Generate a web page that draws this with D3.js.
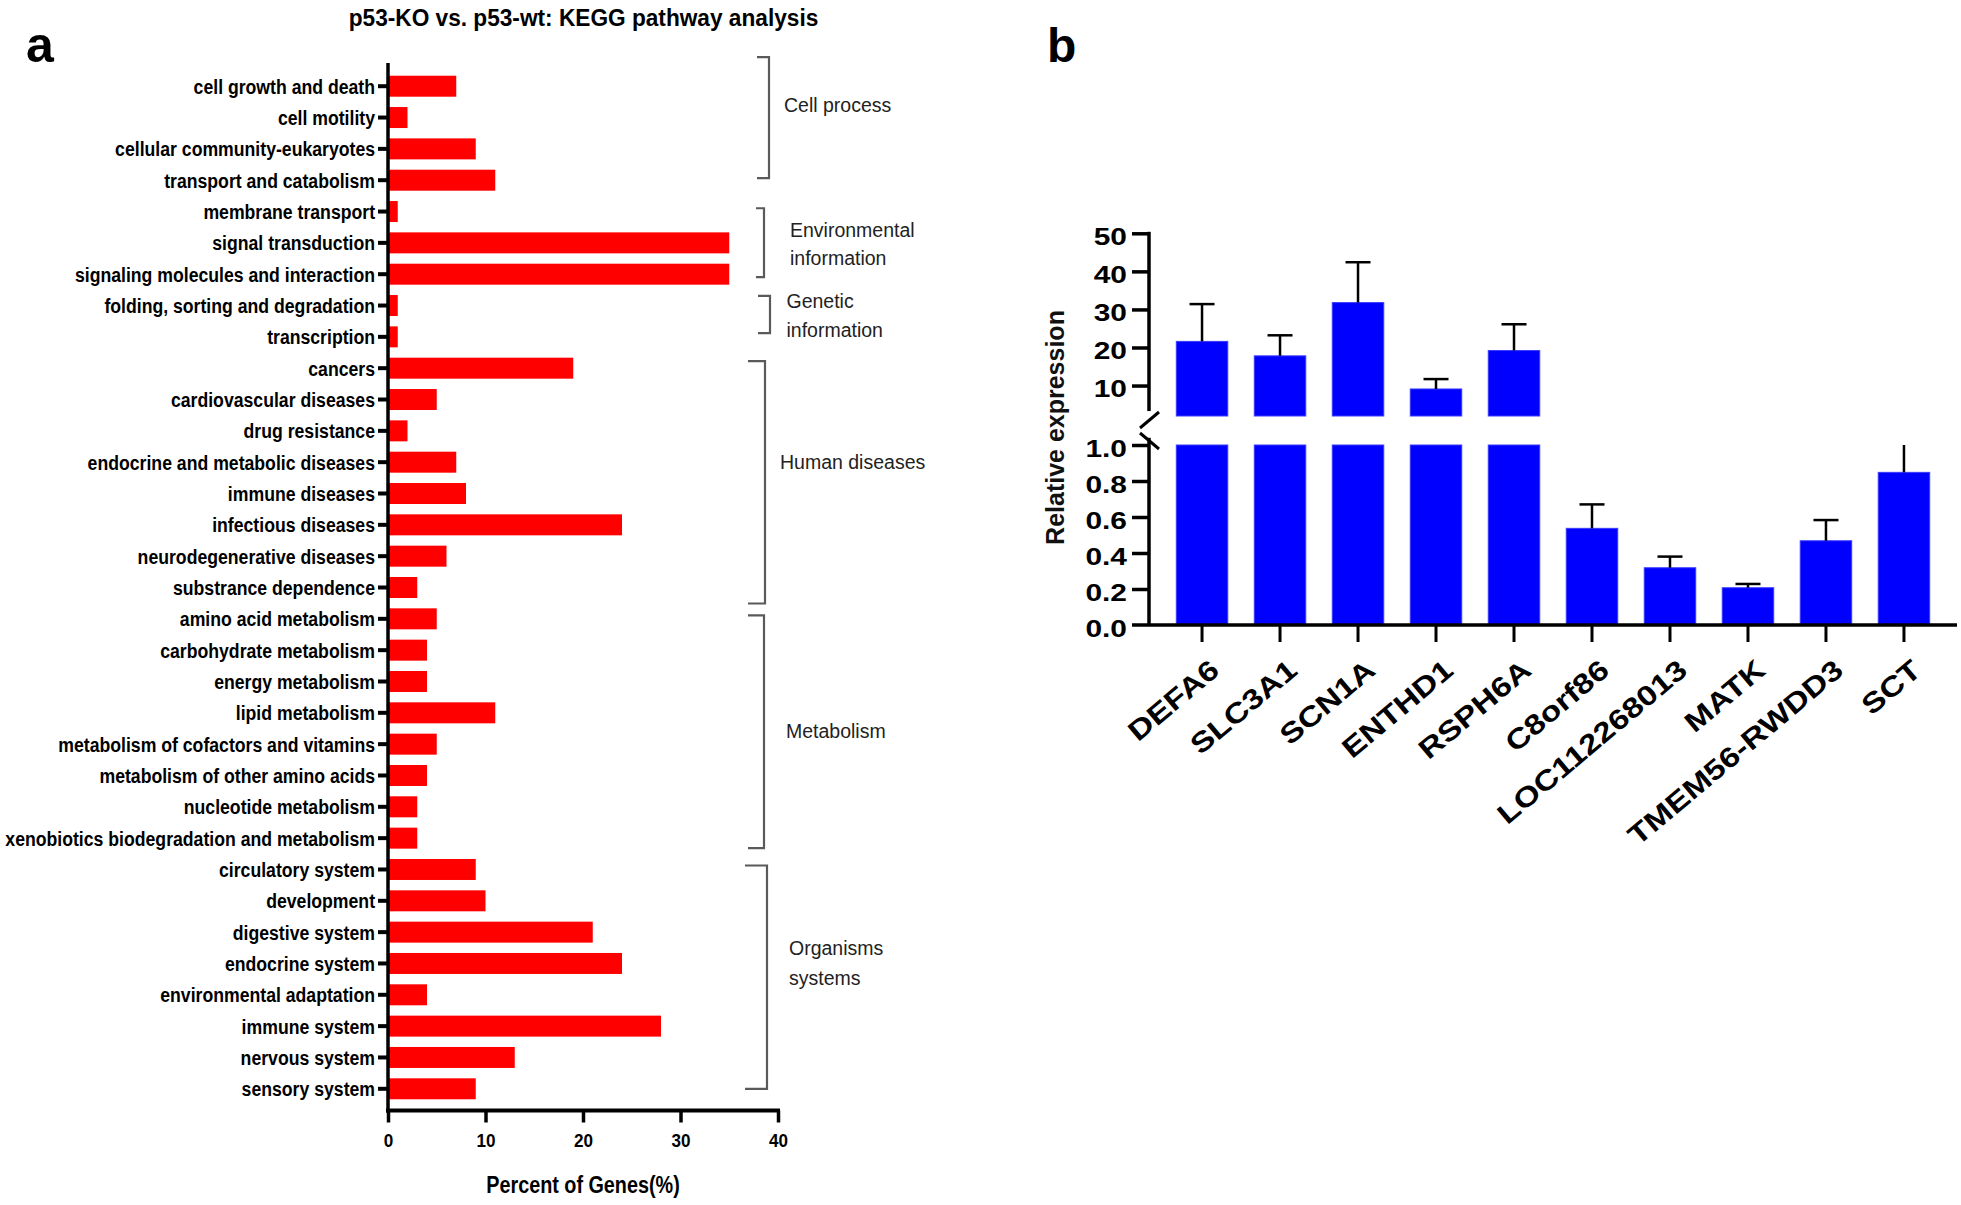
<!DOCTYPE html>
<html>
<head>
<meta charset="utf-8">
<script src="https://cdn.jsdelivr.net/npm/d3@7"></script>
<style>
  html, body { margin: 0; padding: 0; background: #fff; }
  svg { display: block; }
  text { font-family: "Liberation Sans", Arial, Helvetica, sans-serif; }
</style>
</head>
<body>
<svg id="chart" width="1961" height="1205"></svg>
<script>
// ---------------- DATA: panel a ----------------
const pathways = [
  "cell growth and death", "cell motility", "cellular community-eukaryotes", "transport and catabolism",
  "membrane transport", "signal transduction", "signaling molecules and interaction",
  "folding, sorting and degradation", "transcription",
  "cancers", "cardiovascular diseases", "drug resistance", "endocrine and metabolic diseases",
  "immune diseases", "infectious diseases", "neurodegenerative diseases", "substrance dependence",
  "amino acid metabolism", "carbohydrate metabolism", "energy metabolism", "lipid metabolism",
  "metabolism of cofactors and vitamins", "metabolism of other amino acids", "nucleotide metabolism",
  "xenobiotics biodegradation and metabolism",
  "circulatory system", "development", "digestive system", "endocrine system",
  "environmental adaptation", "immune system", "nervous system", "sensory system"
];
const percentGenes = [
  7, 2, 9, 11,
  1, 35, 35,
  1, 1,
  19, 5, 2, 7, 8, 24, 6, 3,
  5, 4, 4, 11, 5, 4, 3, 3,
  9, 10, 21, 24, 4, 28, 13, 9
];
const xTicksA = [0, 10, 20, 30, 40];
const groupNames = [["Cell process"], ["Environmental", "information"], ["Genetic", "information"],
  ["Human diseases"], ["Metabolism"], ["Organisms", "systems"]];
const groupFirst = [0, 4, 7, 9, 17, 25];
const groupLast  = [3, 6, 8, 16, 24, 32];

// ---------------- DATA: panel b ----------------
const genes = ["DEFA6", "SLC3A1", "SCN1A", "ENTHD1", "RSPH6A", "C8orf86", "LOC112268013", "MATK", "TMEM56-RWDD3", "SCT"];
const expr   = [21.6, 17.8, 31.8, 9.1, 19.2, 0.537, 0.318, 0.207, 0.468, 0.848];
const exprSD = [9.8, 5.4, 10.6, 2.6, 6.9, 0.133, 0.062, 0.021, 0.115, 0.2];
const yTicksUpper = [10, 20, 30, 40, 50];
const yTicksLower = [0, 0.2, 0.4, 0.6, 0.8, 1.0];

// ---------------- LAYOUT (styling only) ----------------
const bracketLayout = [
  { top: -29, bot: -2, arm: 12, vx: 769, lx: 784, row: 0.81, gap: 28 },
  { top: -3.3, bot: 3, arm: 8, vx: 764, lx: 790, row: 4.80, gap: 28.3 },
  { top: -9.6, bot: -3.7, arm: 12, vx: 770, lx: 786.5, row: 7.09, gap: 28.4 },
  { top: -7, bot: 16, arm: 17, vx: 765, lx: 780, row: 12.21, gap: 28 },
  { top: -3.5, bot: 10, arm: 16, vx: 764, lx: 786, row: 20.8, gap: 28 },
  { top: -4, bot: 0, arm: 22, vx: 767, lx: 789, row: 27.74, gap: 30 }
];

const svg = d3.select("#chart");

function squeeze(sel, f) {
  sel.each(function () {
    const w = this.getComputedTextLength();
    this.setAttribute("textLength", w * f);
    this.setAttribute("lengthAdjust", "spacingAndGlyphs");
  });
}

// ================= PANEL A =================
const A = { left: 388, right: 778, top: 63, bottom: 1110.5 };
const xA = d3.scaleLinear().domain([0, 40]).range([A.left, A.right]);
const yA = d3.scaleBand().domain(pathways).range([66, 1109]).paddingInner(0.33).paddingOuter(0.31);
const rowY = r => yA(pathways[0]) + yA.bandwidth() / 2 + r * yA.step();

const gA = svg.append("g");

gA.append("text").attr("x", 583.5).attr("y", 26).attr("text-anchor", "middle")
  .attr("font-size", 23).attr("font-weight", "bold").attr("fill", "#000")
  .text("p53-KO vs. p53-wt: KEGG pathway analysis").call(squeeze, 0.985);

gA.append("text").attr("x", 26).attr("y", 62).attr("font-size", 50).attr("font-weight", "bold").text("a");

gA.selectAll("rect.bar").data(pathways).join("rect")
  .attr("class", "bar")
  .attr("x", xA(0))
  .attr("y", d => yA(d))
  .attr("width", (d, i) => xA(percentGenes[i]) - xA(0))
  .attr("height", yA.bandwidth())
  .attr("fill", "#ff0000");

const yAxisA = d3.axisLeft(yA).tickSize(10).tickPadding(3);
const gyA = gA.append("g").attr("transform", `translate(${A.left},0)`).call(yAxisA);
gyA.select(".domain").remove();
gyA.selectAll(".tick line").attr("stroke", "#000").attr("stroke-width", 4);
gyA.selectAll(".tick text").attr("font-size", 19.5).attr("font-weight", "bold").attr("fill", "#000")
  .attr("dy", "0.39em").call(squeeze, 0.905);
gA.append("line").attr("x1", A.left).attr("x2", A.left).attr("y1", A.top).attr("y2", A.bottom + 2)
  .attr("stroke", "#000").attr("stroke-width", 3.5);

const xAxisA = d3.axisBottom(xA).tickValues(xTicksA).tickSize(12).tickPadding(11).tickSizeOuter(0);
const gxA = gA.append("g").attr("transform", `translate(0,${A.bottom})`).call(xAxisA);
gxA.select(".domain").attr("stroke", "#000").attr("stroke-width", 4).attr("d", `M${A.left - 2},0H${A.right + 2}`);
gxA.selectAll(".tick line").attr("stroke", "#000").attr("stroke-width", 3.5);
gxA.selectAll(".tick text").attr("font-size", 19).attr("font-weight", "bold").attr("fill", "#000")
  .attr("dy", "0.71em").call(squeeze, 0.9);

gA.append("text").attr("x", 583).attr("y", 1193).attr("text-anchor", "middle")
  .attr("font-size", 23).attr("font-weight", "bold").text("Percent of Genes(%)").call(squeeze, 0.86);

groupNames.forEach((names, gi) => {
  const L = bracketLayout[gi];
  const y1 = rowY(groupFirst[gi]) + L.top;
  const y2 = rowY(groupLast[gi]) + L.bot;
  gA.append("path")
    .attr("d", `M${L.vx - L.arm},${y1}H${L.vx}V${y2}H${L.vx - L.arm}`)
    .attr("fill", "none").attr("stroke", "#5a5a5a").attr("stroke-width", 2.2);
  names.forEach((nm, k) => {
    gA.append("text").attr("x", L.lx).attr("y", rowY(L.row) + k * L.gap)
      .attr("font-size", 19.5).attr("fill", "#222").text(nm);
  });
});

// ================= PANEL B =================
const B = { axisX: 1149, base: 625, right: 1957 };
const xB = d3.scaleBand().domain(genes).range([B.axisX, B.right]).paddingInner(0.34).paddingOuter(0.35);
const yLow = d3.scaleLinear().domain([0, 1]).range([625, 445]);
const yUp = d3.scaleLinear().domain([2, 50]).range([416, 233.3]);

const gB = svg.append("g");
gB.append("text").attr("x", 1047).attr("y", 62).attr("font-size", 48).attr("font-weight", "bold").text("b");

gB.selectAll("rect.low").data(genes).join("rect").attr("class", "low")
  .attr("x", d => xB(d)).attr("width", xB.bandwidth())
  .attr("y", (d, i) => yLow(Math.min(expr[i], 1)))
  .attr("height", (d, i) => yLow(0) - yLow(Math.min(expr[i], 1)))
  .attr("fill", "#0000ff").attr("stroke", "#3a3aff").attr("stroke-width", 1);

const upIdx = genes.map((g, i) => i).filter(i => expr[i] > 1);
gB.selectAll("rect.up").data(upIdx).join("rect").attr("class", "up")
  .attr("x", i => xB(genes[i])).attr("width", xB.bandwidth())
  .attr("y", i => yUp(expr[i]))
  .attr("height", i => yUp(2) - yUp(expr[i]))
  .attr("fill", "#0000ff").attr("stroke", "#3a3aff").attr("stroke-width", 1);

const capW = 25;
genes.forEach((g, i) => {
  const cx = xB(g) + xB.bandwidth() / 2;
  let yb, yt, cap = true;
  if (expr[i] > 1) { yb = yUp(expr[i]); yt = yUp(expr[i] + exprSD[i]); }
  else {
    yb = yLow(expr[i]);
    const top = expr[i] + exprSD[i];
    if (top > 1) { yt = yLow(1); cap = false; } else { yt = yLow(top); }
  }
  gB.append("line").attr("x1", cx).attr("x2", cx).attr("y1", yb).attr("y2", yt)
    .attr("stroke", "#000").attr("stroke-width", 2.5);
  if (cap) gB.append("line").attr("x1", cx - capW / 2).attr("x2", cx + capW / 2).attr("y1", yt).attr("y2", yt)
    .attr("stroke", "#000").attr("stroke-width", 2.5);
});

function styleYB(g) {
  g.select(".domain").remove();
  g.selectAll(".tick line").attr("stroke", "#000").attr("stroke-width", 3.5);
  g.selectAll(".tick text").attr("font-size", 23).attr("font-weight", "bold").attr("fill", "#000")
    .attr("dy", "0.48em").call(squeeze, 1.3);
}
const gyUp = gB.append("g").attr("transform", `translate(${B.axisX},0)`)
  .call(d3.axisLeft(yUp).tickValues(yTicksUpper).tickSize(17).tickPadding(5).tickFormat(d3.format("d")));
styleYB(gyUp);
const gyLow = gB.append("g").attr("transform", `translate(${B.axisX},0)`)
  .call(d3.axisLeft(yLow).tickValues(yTicksLower).tickSize(17).tickPadding(5).tickFormat(d3.format(".1f")));
styleYB(gyLow);
gyLow.selectAll(".tick").filter(d => d === 0).select("line").remove();

gB.append("line").attr("x1", B.axisX).attr("x2", B.axisX).attr("y1", yUp(50) - 1.5).attr("y2", yUp(3.3))
  .attr("stroke", "#000").attr("stroke-width", 3.5);
gB.append("line").attr("x1", B.axisX).attr("x2", B.axisX).attr("y1", yLow(1.04)).attr("y2", yLow(0))
  .attr("stroke", "#000").attr("stroke-width", 3.5);
gB.append("line").attr("x1", B.axisX - 9).attr("x2", B.axisX + 10).attr("y1", yUp(2) + 12).attr("y2", yUp(2) - 4)
  .attr("stroke", "#000").attr("stroke-width", 3);
gB.append("line").attr("x1", B.axisX - 9).attr("x2", B.axisX + 10).attr("y1", yLow(1) - 12).attr("y2", yLow(1) + 4)
  .attr("stroke", "#000").attr("stroke-width", 3);

const gxB = gB.append("g").attr("transform", `translate(0,${B.base})`)
  .call(d3.axisBottom(xB).tickSize(17).tickSizeOuter(0).tickFormat(""));
gxB.select(".domain").attr("stroke", "#000").attr("stroke-width", 3.5).attr("d", `M${B.axisX - 17},0H${B.right}`);
gxB.selectAll(".tick line").attr("stroke", "#000").attr("stroke-width", 3);

gB.selectAll("text.gene").data(genes).join("text").attr("class", "gene")
  .attr("transform", d => `translate(${xB(d) + xB.bandwidth() / 2 + 19},673) rotate(-40)`)
  .attr("text-anchor", "end").attr("font-size", 28).attr("font-weight", "bold").attr("fill", "#000")
  .text(d => d).call(squeeze, 1.2);

gB.append("text").attr("transform", "translate(1064,427.5) rotate(-90)").attr("text-anchor", "middle")
  .attr("font-size", 25).attr("font-weight", "bold").attr("fill", "#111").text("Relative expression");
</script>
</body>
</html>
